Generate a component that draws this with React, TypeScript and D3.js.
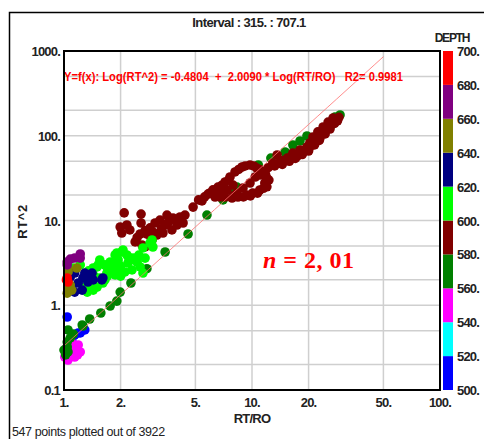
import * as d3 from "d3";

// depth classes for the colour bar
const depthTicks = [500, 520, 540, 560, 580, 600, 620, 640, 660, 680, 700];
const depthColors = ["#0000ff", "#00ffff", "#ff00ff", "#008000", "#800000", "#00ff00", "#000080", "#808000", "#800080", "#ff0000"];

// axis ticks
const xTicks = [1, 2, 5, 10, 20, 50, 100];
const xTickLabels = ["1.", "2.", "5.", "10.", "20.", "50.", "100."];
const yTicks = [0.1, 1, 10, 100, 1000];
const yTickLabels = ["0.1", "1.", "10.", "100.", "1000."];
const yGrid = [0.2, 0.5, 1, 2, 5, 10, 20, 50, 100, 200, 500];
const xGrid = [2, 5, 10, 20, 50];

// regression
const fitIntercept = -0.4804;
const fitSlope = 2.009;

// points [RT/RO, RT^2] per depth class
const depth500: number[][] = [[1.04, 0.727], [1.14, 0.446], [1.22, 0.471], [1.29, 0.511], [1.10, 0.389], [1.19, 0.471]];
const depth520: number[][] = [];
const depth540: number[][] = [[1.05, 0.226], [1.14, 0.245], [1.22, 0.281], [1.19, 0.34], [1.10, 0.359], [1.08, 0.259], [1.04, 0.322], [1.14, 0.296], [1.01, 0.245], [1.18, 0.26]];
const depth560: number[][] = [[1.0, 0.296], [1.04, 0.322], [1.05, 0.281], [1.05, 0.511], [1.08, 0.411], [1.04, 0.368], [1.12, 0.458], [1.25, 0.585], [1.26, 0.569], [1.37, 0.688], [1.57, 0.81], [1.76, 0.98], [1.91, 1.12], [1.99, 1.43], [2.27, 1.83], [2.76, 2.7], [3.45, 4.25], [4.57, 6.93], [5.76, 11.6], [7.01, 17.5], [7.83, 22.9], [8.32, 24.8], [10.8, 45.2], [12.6, 54.6], [15.0, 64.3], [16.5, 77.8], [18.0, 86.7], [19.6, 99.3], [23.9, 117], [26.0, 127], [27.6, 166], [29.4, 176], [1.02, 0.26]];
const depth580: number[][] = [
  [2.09, 12.3], [2.57, 11.9], [1.99, 8.38], [2.16, 8.85], [2.03, 7.12], [2.57, 9.34], [2.54, 6.93], [2.76, 6.93], [2.39, 5.58], [2.6, 5.14],
  [3.05, 9.34], [3.24, 10.1], [3.53, 11.6], [3.8, 10.7], [4.14, 11.0], [4.4, 11.6], [3.99, 8.85], [3.75, 7.73], [3.36, 7.12], [3.12, 6.74],
  [2.94, 5.89], [4.3, 9.34], [4.86, 14.4], [5.42, 17.0], [5.83, 20.5], [2.24, 7.73], [2.87, 8.2], [3.45, 8.85], [3.6, 9.6], [4.0, 10.0],
  [4.2, 9.8], [3.3, 8.0], [2.7, 7.6], [2.45, 6.3], [2.9, 6.3], [3.0, 7.2], [2.7, 4.9],
  [5.98, 21.1], [6.59, 24.8], [6.76, 22.3], [7.19, 28.5], [7.64, 32.6], [8.12, 37.4], [8.85, 42.8], [9.76, 45.2], [10.6, 41.6], [11.4, 37.4],
  [12.0, 31.7], [11.7, 27.7], [11.0, 22.9], [10.1, 21.1], [9.41, 20.0], [8.42, 18.9], [7.83, 18.4], [7.19, 18.9], [6.76, 18.9], [9.76, 27.7],
  [8.96, 24.2], [11.0, 34.4], [10.4, 32.6], [8.32, 21.1], [7.36, 22.9], [7.93, 26.2], [6.36, 18.9], [6.2, 23.0], [12.2, 42.0],
  [6.9, 26], [7.5, 30], [8.5, 40], [9.2, 44], [10.2, 44], [11.0, 40], [11.8, 35], [12.3, 30], [12.0, 25], [11.5, 24],
  [10.7, 21], [9.8, 19.5], [9.0, 19], [8.0, 19.5], [6.5, 20], [5.6, 19], [5.2, 17.5],
  [12.9, 47.7], [14.1, 49.0], [15.4, 54.6], [16.5, 62.6], [18.0, 67.9], [19.6, 73.7], [13.6, 59.3], [17.4, 57.7], [18.7, 64.3], [20.3, 73.7],
  [21.1, 96.7], [22.4, 111], [23.0, 94.1], [23.9, 127], [25.4, 145], [27.0, 162], [20.3, 82.1], [21.5, 89], [24.5, 117], [26.0, 133],
  [19.2, 68], [16.0, 56], [14.6, 51], [28.0, 155],
  [13.2, 44], [14.5, 46], [15.8, 50], [17.0, 54], [18.5, 60], [20.0, 66], [21.5, 78], [22.8, 88], [24.5, 105], [26.0, 120],
  [27.5, 140], [28.5, 150], [29.0, 165]
];
const depth600: number[][] = [
  [2.03, 4.25], [2.16, 3.92], [1.94, 3.42], [1.82, 3.15], [1.76, 3.24], [1.69, 2.83], [2.19, 3.15], [2.39, 3.42], [2.3, 2.61], [2.54, 2.83],
  [2.63, 2.4], [2.11, 2.47], [1.94, 2.68], [1.52, 2.99], [1.43, 2.75], [1.69, 2.4], [1.65, 1.99], [1.55, 2.1], [1.43, 1.51], [1.33, 1.43],
  [1.5, 1.64], [1.37, 1.83], [2.06, 4.49], [1.87, 3.92], [2.87, 5.43], [2.97, 4.87], [2.94, 5.89], [2.63, 4.74], [1.55, 3.42], [2.24, 3.42],
  [2.45, 3.24], [1.91, 4.14], [2.33, 3.61], [1.5, 2.83], [1.12, 2.75], [1.22, 2.99], [1.29, 1.64], [1.61, 1.83], [1.87, 2.28],
  [1.8, 2.6], [2.0, 2.9], [2.2, 3.7], [2.5, 3.9], [2.7, 3.6], [1.65, 3.0], [1.35, 2.55], [1.45, 2.2], [1.7, 2.2], [2.0, 2.2]
];
const depth620: number[][] = [[1.33, 2.28], [1.41, 2.4], [1.26, 2.1], [1.19, 1.83], [1.34, 1.88], [1.43, 1.99], [1.14, 1.43], [1.1, 1.64], [1.59, 1.99], [1.25, 1.51], [1.08, 2.15], [1.14, 2.4], [1.29, 2.4], [1.37, 2.1], [1.61, 2.1]];
const depth640: number[][] = [[1.17, 2.75], [1.05, 2.47], [1.05, 1.64], [1.05, 1.51], [1.1, 1.51], [1.04, 1.39], [1.08, 1.73], [1.05, 2.61]];
const depth660: number[][] = [[1.08, 3.5], [1.22, 4.03], [1.14, 3.61], [1.04, 3.24], [1.22, 3.6], [1.04, 2.99]];
const depth680: number[][] = [[1.04, 2.1], [1.05, 1.88], [1.03, 1.99]];

const depthSeries = [depth500, depth520, depth540, depth560, depth580, depth600, depth620, depth640, depth660, depth680];

export default function App() {
  const W = 484, H = 439;
  const left = 64, right = 440, top = 51, bottom = 390;

  const x = d3.scaleLog().domain([1, 100]).range([left, right]);
  const y = d3.scaleLog().domain([0.1, 1000]).range([bottom, top]);
  const depthY = d3.scaleLinear().domain([500, 700]).range([bottom, top]);

  const fitLine = d3.line<number>()
    .x(d => x(d))
    .y(d => y(Math.pow(10, fitIntercept + fitSlope * Math.log10(d))));

  const font = "'Liberation Sans', Arial, sans-serif";

  return (
    <svg width={W} height={H} style={{ position: "absolute", left: 0, top: 0, background: "#fff" }} fontFamily={font}>
      <rect x={0} y={0} width={W} height={H} fill="#fff" />
      {/* outer frame */}
      <rect x={9.5} y={12.5} width={W + 10} height={H + 10} fill="none" stroke="#000" strokeWidth={1.5} />

      <text x={249} y={27} textAnchor="middle" fontSize={13} fontWeight="bold" letterSpacing={-0.6} fill="#222">Interval : 315. : 707.1</text>

      {/* grid */}
      {xGrid.map(v => (
        <line key={"gx" + v} x1={x(v)} x2={x(v)} y1={top} y2={bottom} stroke="#cfcfcf" strokeWidth={1.5} />
      ))}
      {yGrid.map(v => (
        <line key={"gy" + v} x1={left} x2={right} y1={y(v)} y2={y(v)} stroke="#cfcfcf" strokeWidth={1.5} />
      ))}

      {/* points */}
      {depthSeries.map((pts, i) => pts.map((p, j) => (
        <circle key={i + "-" + j} cx={x(p[0])} cy={y(p[1])} r={4.8} fill={depthColors[i]} />
      )))}

      {/* regression */}
      <path d={fitLine(d3.range(0, 1.7, 0.05).map(v => Math.pow(10, v)).concat([50])) || ""} fill="none" stroke="#ff7070" strokeWidth={0.8} />

      <text x={64} y={81} fontSize={13} fontWeight="bold" fill="#ff0000" textLength={339} lengthAdjust="spacingAndGlyphs" style={{ whiteSpace: "pre" }}>
        {"Y=f(x): Log(RT^2) = -0.4804  +  2.0090 * Log(RT/RO)   R2= 0.9981"}
      </text>

      {/* plot frame */}
      <rect x={left} y={top} width={right - left} height={bottom - top} fill="none" stroke="#000" strokeWidth={2} />

      {/* x tick labels */}
      {xTicks.map((v, i) => (
        <text key={"xt" + v} x={x(v)} y={407} textAnchor="middle" fontSize={13} fontWeight="bold" letterSpacing={-0.8} fill="#222">{xTickLabels[i]}</text>
      ))}
      <text x={252} y={423} textAnchor="middle" fontSize={13} fontWeight="bold" letterSpacing={-0.8} fill="#222">RT/RO</text>

      {/* y tick labels */}
      {yTicks.map((v, i) => (
        <text key={"yt" + v} x={60} y={y(v) + 5} textAnchor="end" fontSize={13} fontWeight="bold" letterSpacing={-0.8} fill="#222">{yTickLabels[i]}</text>
      ))}
      <text transform={`translate(27,${(top + bottom) / 2 + 1}) rotate(-90)`} textAnchor="middle" fontSize={13} fontWeight="bold" letterSpacing={0.6} fill="#222">RT^2</text>

      {/* colour bar */}
      <text x={452} y={42} textAnchor="middle" fontSize={12} fontWeight="bold" letterSpacing={-1.2} fill="#222">DEPTH</text>
      {depthColors.map((c, i) => (
        <rect key={"cb" + i} x={443} y={depthY(depthTicks[i + 1])} width={10} height={depthY(depthTicks[i]) - depthY(depthTicks[i + 1])} fill={c} />
      ))}
      {depthTicks.map(v => (
        <text key={"dt" + v} x={457} y={depthY(v) + 5} fontSize={13} fontWeight="bold" letterSpacing={-0.8} fill="#222">{v + "."}</text>
      ))}

      <text x={263} y={268} fontFamily="'Liberation Serif', 'DejaVu Serif', serif" fontSize={24} fontWeight="bold" fill="#ff0000" style={{ whiteSpace: "pre" }} letterSpacing={0.5}>
        <tspan fontStyle="italic">n</tspan>
        <tspan>{" = 2, 01"}</tspan>
      </text>

      <text x={12} y={436} fontSize={12.5} fill="#222" letterSpacing={-0.4}>547 points plotted out of 3922</text>
    </svg>
  );
}
